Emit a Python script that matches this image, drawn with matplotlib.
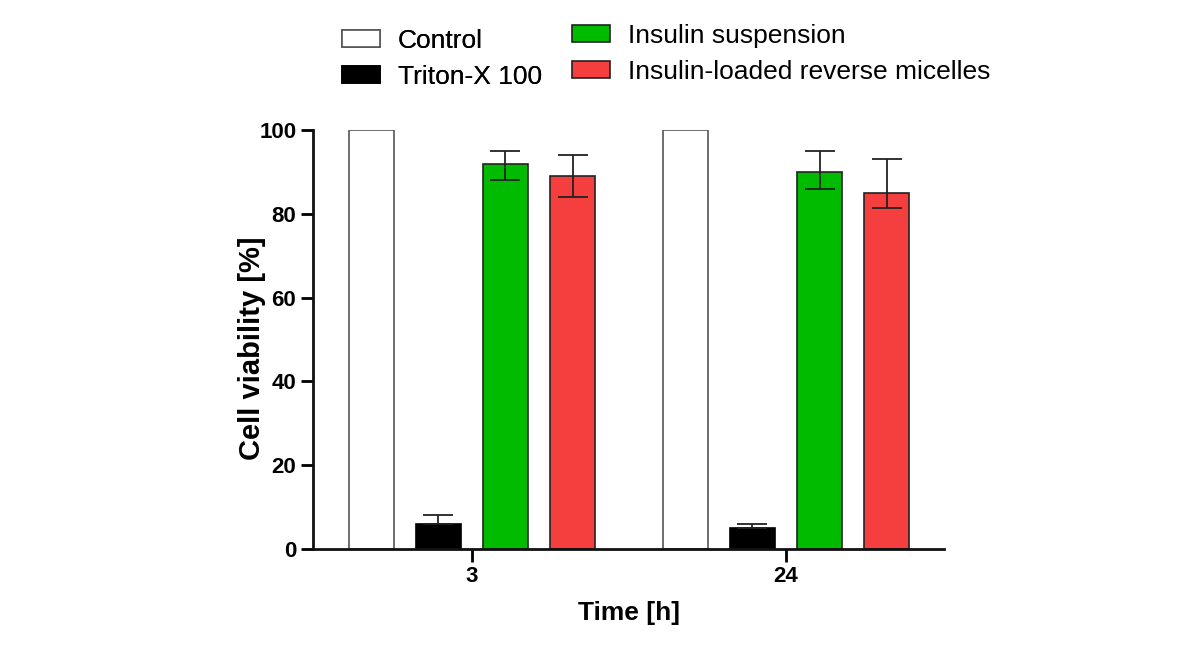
import matplotlib
matplotlib.use("Agg")
import matplotlib.pyplot as plt
import numpy as np

plt.rcParams["font.family"] = ["Liberation Sans", "DejaVu Sans"]

times = ["3", "24"]
groups = ["Control", "Triton-X 100", "Insulin suspension", "Insulin-loaded reverse micelles"]
colors = ["#ffffff", "#000000", "#00bb00", "#f53f3f"]
edges = ["#555555", "#000000", "#222222", "#222222"]

values = [
    [100, 100],  # Control
    [6, 5],      # Triton-X 100
    [92, 90],    # Insulin suspension
    [89, 85],    # reverse micelles
]
err_low = [
    [0, 0],
    [0, 0],
    [4, 4],
    [5, 3.5],
]
err_high = [
    [0, 0],
    [2, 1],
    [3, 5],
    [5, 8],
]

fig = plt.figure(figsize=(12.01, 6.51), dpi=100)
ax = fig.add_axes([313 / 1201, 1 - 549 / 651, (944 - 313) / 1201, (549 - 130) / 651])

x = np.arange(len(times))
step = 0.2135
width = 0.145
bars = []
for i in range(len(groups)):
    off = (i - 1.5) * step
    has_err = any(err_high[i]) or any(err_low[i])
    b = ax.bar(x + off, values[i], width, color=colors[i], edgecolor=edges[i],
               linewidth=1.2, label=groups[i], zorder=2)
    bars.append(b)
    if has_err:
        ax.errorbar(x + off, values[i], yerr=[err_low[i], err_high[i]], fmt="none",
                    ecolor="#222222", elinewidth=1.3, capsize=11, capthick=1.3, zorder=3)

ax.set_xlim(-0.506, 1.503)
ax.set_ylim(0, 100)
ax.set_xticks(x)
ax.set_xticklabels(times)
ax.set_yticks([0, 20, 40, 60, 80, 100])
for s in ["top", "right"]:
    ax.spines[s].set_visible(False)
for s in ["left", "bottom"]:
    ax.spines[s].set_linewidth(2)
    ax.spines[s].set_color("#111111")
ax.tick_params(axis="both", direction="out", length=9, width=2, labelsize=16, pad=3)
for lab in ax.get_xticklabels() + ax.get_yticklabels():
    lab.set_fontweight("bold")

ax.set_xlabel("Time [h]", fontsize=19, fontweight="bold", labelpad=10)
ax.set_ylabel("Cell viability [%]", fontsize=21, fontweight="bold")
ax.yaxis.set_label_coords(-0.074, 0.48)

# two legend blocks, the right one sits slightly higher in the original
leg_kw = dict(loc="upper left", ncol=1, frameon=False, fontsize=19,
              handlelength=1.44, handleheight=0.6, handletextpad=0.68,
              labelspacing=0.45, borderaxespad=0, borderpad=0)
leg1 = fig.legend(bars[:2], groups[:2], bbox_to_anchor=(342 / 1201, 1 - 29 / 651), **leg_kw)
fig.add_artist(leg1)
fig.legend(bars[2:], groups[2:], bbox_to_anchor=(572 / 1201, 1 - 24 / 651), **leg_kw)

fig.savefig("out.png", dpi=100)
